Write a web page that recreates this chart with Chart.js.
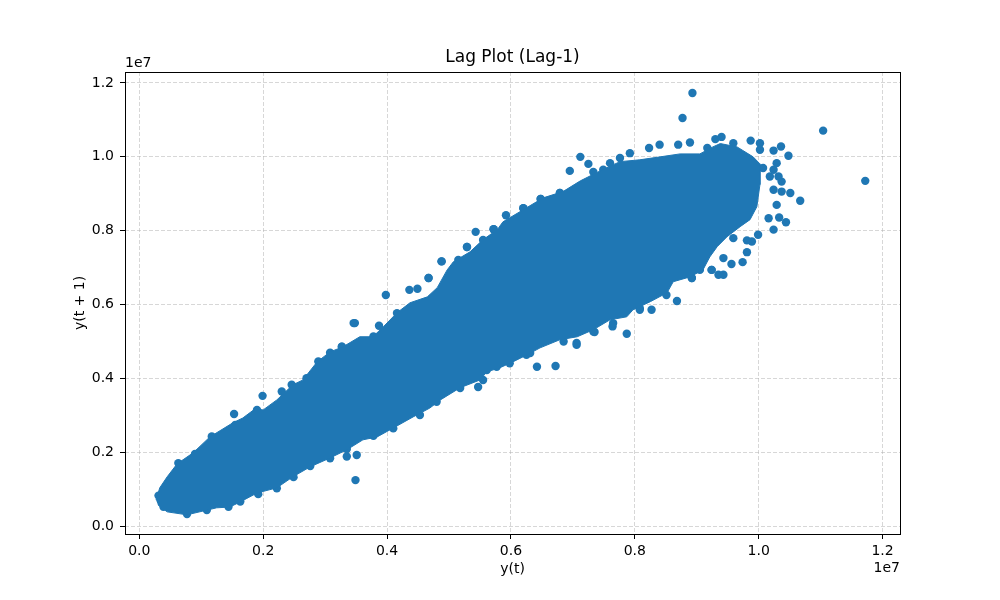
<!DOCTYPE html>
<html>
<head>
<meta charset="utf-8">
<script src="https://cdn.jsdelivr.net/npm/chart.js@4.4.1/dist/chart.umd.min.js"></script>
<style>
body{margin:0;background:#fff;}
canvas{display:block;}
</style>
</head>
<body>
<canvas id="lag_stage" width="1000" height="600"></canvas>
<script>
// all values in units of 1e7 (same as the axis offset text)
const titleText = 'Lag Plot (Lag-1)';
const xLabel = 'y(t)';
const yLabel = 'y(t + 1)';
const tickValues = [0.0, 0.2, 0.4, 0.6, 0.8, 1.0, 1.2];

// outline of the solid (overplotted) cloud
const blobX = [0.027,0.033,0.045,0.061,0.087,0.114,0.151,0.167,0.187,0.200,0.222,0.248,0.264,0.287,0.308,0.329,0.356,0.377,0.394,0.416,0.437,0.465,0.481,0.497,0.507,0.534,0.555,0.578,0.587,0.620,0.652,0.684,0.712,0.744,0.776,0.808,0.841,0.873,0.905,0.926,0.938,0.965,0.991,1.002,1.002,0.997,0.986,0.970,0.949,0.933,0.921,0.910,0.889,0.862,0.852,0.825,0.797,0.787,0.760,0.733,0.707,0.679,0.647,0.626,0.603,0.582,0.561,0.550,0.518,0.486,0.469,0.442,0.410,0.384,0.361,0.335,0.308,0.276,0.248,0.222,0.190,0.163,0.146,0.125,0.077,0.045,0.030];
const blobY = [0.071,0.104,0.134,0.169,0.199,0.242,0.280,0.293,0.318,0.315,0.342,0.383,0.396,0.445,0.472,0.486,0.513,0.513,0.540,0.578,0.605,0.621,0.646,0.694,0.716,0.743,0.776,0.803,0.824,0.857,0.889,0.906,0.935,0.962,0.987,0.992,1.000,1.008,1.008,1.027,1.036,1.027,1.000,0.981,0.925,0.865,0.830,0.811,0.784,0.757,0.729,0.694,0.675,0.662,0.632,0.608,0.586,0.567,0.559,0.532,0.513,0.505,0.483,0.464,0.445,0.429,0.418,0.396,0.375,0.342,0.320,0.296,0.266,0.242,0.234,0.207,0.185,0.161,0.134,0.104,0.090,0.066,0.052,0.050,0.031,0.039,0.058];

// single dots sitting on the rim of the cloud
const rimX = [0.090,0.155,0.190,0.230,0.246,0.270,0.289,0.308,0.327,0.348,0.378,0.416,0.467,0.488,0.515,0.529,0.555,0.572,0.620,0.648,0.679,0.039,0.077,0.109,0.163,0.192,0.249,0.276,0.308,0.335,0.378,0.410,0.453,0.480,0.518,0.555,0.577,0.561,0.598,0.625,0.631,0.685,0.706,0.733,0.765,0.808,0.851,0.892,0.924,0.943,0.959];
const rimY = [0.196,0.274,0.315,0.365,0.383,0.401,0.446,0.470,0.486,0.550,0.514,0.577,0.672,0.717,0.721,0.756,0.775,0.804,0.861,0.886,0.902,0.053,0.033,0.044,0.067,0.087,0.133,0.163,0.184,0.209,0.245,0.265,0.301,0.337,0.374,0.396,0.432,0.423,0.441,0.464,0.469,0.500,0.496,0.527,0.550,0.590,0.626,0.672,0.694,0.726,0.780];

// points standing apart from the cloud
const pointX = [0.031,0.063,0.117,0.153,0.199,0.222,0.144,0.349,0.335,0.351,0.327,0.346,0.387,0.398,0.436,0.449,0.467,0.488,0.529,0.543,0.572,0.592,0.620,0.648,0.679,0.547,0.642,0.672,0.706,0.735,0.764,0.787,0.808,0.827,0.868,0.892,0.905,0.924,0.935,0.943,0.956,0.974,0.981,0.981,0.989,0.999,1.024,1.016,1.033,1.044,1.029,1.067,1.051,1.037,1.024,1.037,1.032,1.018,1.024,1.007,1.029,1.048,1.036,1.024,1.002,1.002,0.987,0.959,0.940,0.930,0.917,0.889,0.870,0.840,0.823,0.792,0.776,0.760,0.749,0.733,0.725,0.712,0.695,0.877,0.893,1.104,1.172];
const pointY = [0.083,0.171,0.243,0.304,0.353,0.103,0.053,0.125,0.189,0.193,0.486,0.550,0.543,0.626,0.640,0.643,0.672,0.717,0.756,0.797,0.804,0.842,0.861,0.886,0.902,0.377,0.432,0.434,0.491,0.526,0.541,0.521,0.586,0.586,0.610,0.672,0.694,0.694,0.681,0.681,0.710,0.715,0.742,0.774,0.771,0.789,0.803,0.834,0.836,0.823,0.870,0.881,0.902,0.906,0.911,0.933,0.947,0.947,0.965,0.970,0.983,1.003,1.028,1.017,1.019,1.037,1.044,1.037,1.054,1.048,1.024,1.039,1.033,1.033,1.024,1.010,0.997,0.983,0.965,0.959,0.981,1.000,0.962,1.105,1.173,1.071,0.935];

const lag_blue = '#1f77b4';
const lag_canvas = document.getElementById('lag_stage');

function lag_zip(xs, ys) {
    const out = [];
    for (let i = 0; i < xs.length; ++i) {
        out.push({x: xs[i], y: ys[i]});
    }
    return out;
}

// frame, title, axis labels and the 1e7 offset texts
const lagDecor = {
    id: 'lagDecor',
    afterDraw(chart) {
        const ctx = chart.ctx;
        const a = chart.chartArea;
        ctx.save();
        ctx.strokeStyle = '#000';
        ctx.lineWidth = 1;
        ctx.strokeRect(a.left + 0.5, a.top + 0.5, a.right - a.left, a.bottom - a.top);
        ctx.fillStyle = '#000';
        ctx.textBaseline = 'middle';
        ctx.font = '17px "DejaVu Sans"';
        ctx.textAlign = 'center';
        ctx.fillText(titleText, (a.left + a.right) / 2, 58);
        ctx.font = '14px "DejaVu Sans"';
        ctx.fillText(xLabel, (a.left + a.right) / 2, 569);
        ctx.textAlign = 'left';
        ctx.fillText('1e7', a.left, 63);
        ctx.textAlign = 'right';
        ctx.fillText('1e7', a.right, 568);
        ctx.translate(80, (a.top + a.bottom) / 2);
        ctx.rotate(-Math.PI / 2);
        ctx.textAlign = 'center';
        ctx.fillText(yLabel, 0, 0);
        ctx.restore();
    }
};

Chart.defaults.font.family = '"DejaVu Sans"';
Chart.defaults.font.size = 14;
Chart.defaults.color = '#000';

function lag_axis(min, max, isY) {
    return {
        type: 'linear',
        min: min,
        max: max,
        z: 1, // grid drawn over the points, like the reference
        afterBuildTicks: (scale) => {
            scale.ticks = tickValues.map(v => ({value: v}));
        },
        afterFit: (scale) => {
            if (isY) scale.width = 125;
            else scale.height = 66;
        },
        ticks: {
            padding: isY ? 6 : 4,
            maxRotation: 0,
            autoSkip: false,
            callback: (v) => Number(v).toFixed(1)
        },
        grid: {
            color: 'rgba(176,176,176,0.5)',
            lineWidth: 1,
            borderDash: [4, 2],
            tickColor: '#000',
            tickLength: 5,
            tickWidth: 1,
            tickBorderDash: []
        },
        border: {display: false, dash: [4, 2]}
    };
}

const lag_chart = new Chart(lag_canvas, {
    type: 'scatter',
    data: {
        datasets: [
            {
                label: 'cloud',
                data: lag_zip(blobX, blobY),
                showLine: true,
                fill: 'shape',
                backgroundColor: lag_blue,
                borderColor: lag_blue,
                borderWidth: 1,
                pointRadius: 0,
                tension: 0
            },
            {
                label: 'rim',
                data: lag_zip(rimX, rimY),
                backgroundColor: lag_blue,
                borderWidth: 0,
                pointRadius: 4.2
            },
            {
                label: 'points',
                data: lag_zip(pointX, pointY),
                backgroundColor: lag_blue,
                borderWidth: 0,
                pointRadius: 4.2
            }
        ]
    },
    options: {
        responsive: false,
        animation: false,
        devicePixelRatio: 1,
        layout: {padding: {left: 0, top: 72, right: 100, bottom: 0}},
        plugins: {
            legend: {display: false},
            tooltip: {enabled: false}
        },
        scales: {
            x: lag_axis(-0.0231, 1.2281, false),
            y: lag_axis(-0.0209, 1.2297, true)
        }
    },
    plugins: [lagDecor]
});
</script>
</body>
</html>
